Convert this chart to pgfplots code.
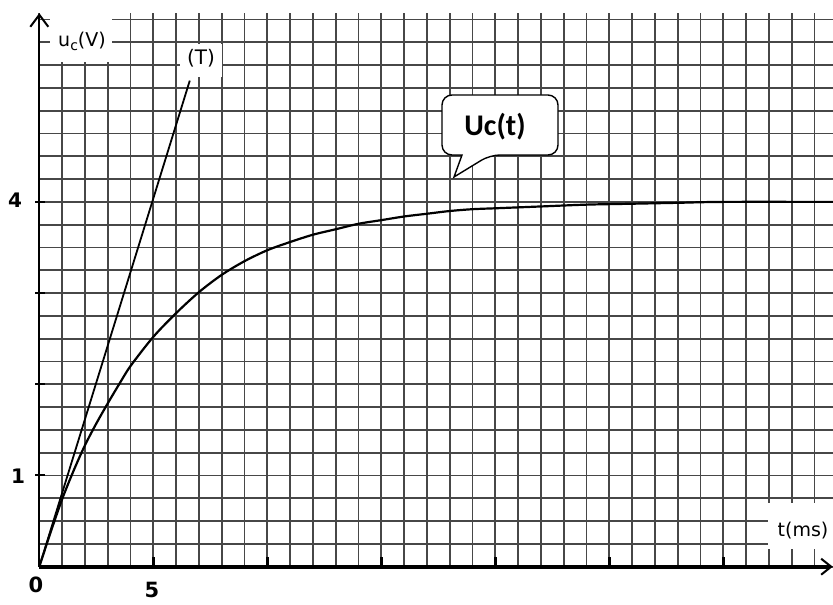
\documentclass[border=0pt]{standalone}
\usepackage{fontspec}
\setmainfont{DejaVu Sans}
\newfontfamily\carlito{Carlito}
\usepackage{pgfplots}
\pgfplotsset{compat=1.18}
\usetikzlibrary{arrows.meta}
\definecolor{gridc}{gray}{0.28}

\begin{document}
\begin{tikzpicture}
\useasboundingbox (0,0) rectangle (416.5pt,302pt);
\begin{axis}[
  at={(19.65pt,18.65pt)}, anchor=south west,
  x=11.4pt, y=45.6pt,
  xmin=0, xmax=34.8, ymin=0, ymax=6.07,
  axis lines=left,
  x axis line style={line width=2pt, -{Straight Barb[length=5pt,width=8pt,line width=1pt]}},
  y axis line style={line width=1.2pt, -{Straight Barb[length=6pt,width=9pt,line width=1pt]}},
  xtick={5,10,...,30}, ytick={1,2,3,4},
  xticklabels={}, yticklabels={},
  minor xtick={0,1,...,34}, minor ytick={0,0.25,...,6},
  grid=minor,
  minor grid style={gridc, line width=0.95pt},
  major grid style={draw=none},
  tick style={black, line width=1.8pt},
  minor tick length=0pt,
  major tick length=5pt,
  tick align=inside,
  every y tick/.append style={xshift=-2pt, line width=1pt},
]
\addplot[black, line width=1.1pt, smooth] coordinates {
(0,0) (0.5,0.38) (1,0.74) (1.5,1.05) (2,1.33) (2.5,1.57) (3,1.79) (3.5,2.0)
(4,2.2) (5,2.52) (6,2.78) (7,3.01) (8,3.2) (9,3.35) (10,3.47) (11,3.56)
(12,3.64) (13,3.70) (14,3.76) (15,3.80) (16,3.84) (17,3.87) (18,3.90)
(19,3.92) (20,3.93) (22,3.95) (24,3.97) (26,3.98) (28,3.99) (30,4.0) (34.8,4.0)
};
\addplot[black, line width=0.9pt] coordinates {(0,0) (6.6,5.33)};
\end{axis}
\begin{scope}[x=0.5pt,y=-0.5pt,yshift=302pt]
  % white patches behind labels
  \fill[white] (50,8) rectangle (112,62);
  \fill[white] (180,44) rectangle (222,77);
  \fill[white] (768,503) rectangle (834,549);
  \node[font=\fontsize{9.5}{10}\selectfont] at (82,41) {u\raisebox{-0.4ex}{\fontsize{7}{8}\selectfont c}(V)};
  \node[font=\fontsize{10}{11}\selectfont] at (201,58) {(T)};
  \node[font=\fontsize{9.5}{10}\selectfont] at (803,531) {t(ms)};
  % tick labels
  \node[font=\bfseries\fontsize{10}{12}\selectfont] at (15,200) {4};
  \node[font=\bfseries\fontsize{10}{12}\selectfont] at (18,476) {1};
  \node[font=\bfseries\fontsize{10.5}{12}\selectfont] at (36,585) {0};
  \node[font=\bfseries\fontsize{10.5}{12}\selectfont] at (152,590) {5};
  % callout
  \draw[line width=0.7pt, fill=white]
    (442,125) [rounded corners=5pt] -- (442,95) -- (558,95) -- (558,155) -- (490,155)
    [sharp corners] -- (454,177) -- (462,155)
    [rounded corners=5pt] -- (442,155) -- cycle;
  \node[font=\carlito\bfseries\fontsize{15}{18}\selectfont] at (495,127) {Uc(t)};
\end{scope}
\end{tikzpicture}
\end{document}
